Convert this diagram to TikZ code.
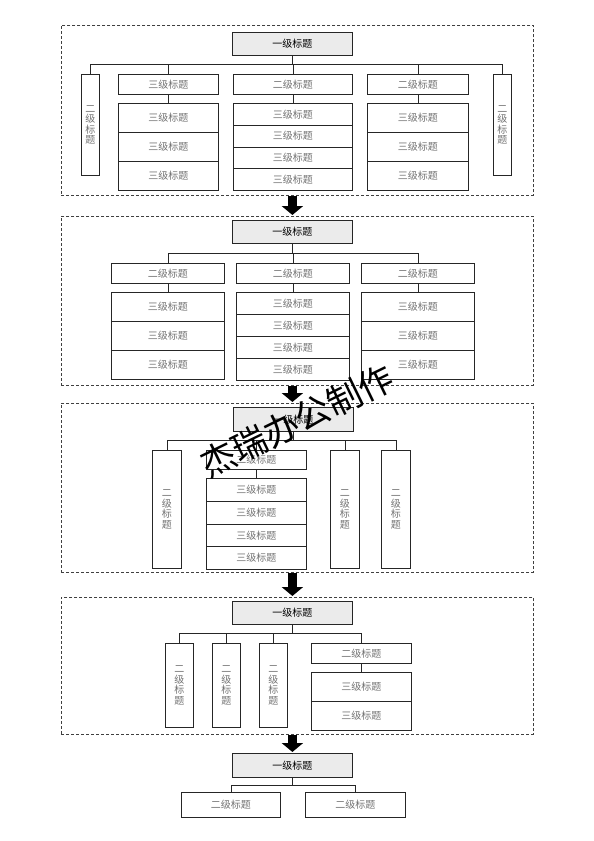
\documentclass[tikz,border=0pt]{standalone}
\usepackage{fontspec}
\setmainfont{Noto Sans CJK SC}
\newfontfamily\cjk{Noto Sans CJK SC}
\usetikzlibrary{arrows.meta}
\begin{document}
\begin{tikzpicture}[x=1pt,y=-1pt,
  box/.style={draw=black!85, line width=0.8pt, anchor=north west, inner sep=0pt,
    font=\cjk\fontsize{10}{10.5}\selectfont, text=black!55, align=center},
  topbox/.style={box, fill=black!8, text=black, minimum width=120pt, minimum height=23pt},
  vbox/.style={box, minimum height=#1},
  frame/.style={draw=black!75, dash pattern=on 3pt off 2pt, line width=0.8pt, anchor=north west,
    inner sep=0pt, minimum width=472pt, minimum height=#1},
  link/.style={draw=black!85, line width=0.8pt},
  bigarrow/.style={draw=black, line width=9pt, shorten >=1pt, -{Triangle[length=9pt,width=21pt]}},
]
\useasboundingbox (0,0) rectangle (594,841);

% ---------------- Section 1 ----------------
\node[frame=170pt] (f1) at (61,25) {};
\node[topbox] (t1) at (232,32) {一级标题};
\coordinate (b1) at (0,64);
\node[box, minimum width=18pt, minimum height=101pt] (s1l) at (81,74) {二\\级\\标\\题};
\node[box, minimum width=18pt, minimum height=101pt] (s1r) at (493,74) {二\\级\\标\\题};
\node[box, minimum width=100pt, minimum height=20pt] (s1a) at (118,74) {三级标题};
\node[box, minimum width=119pt, minimum height=20pt] (s1b) at (233,74) {二级标题};
\node[box, minimum width=101pt, minimum height=20pt] (s1c) at (367,74) {二级标题};
\foreach \i in {0,1,2} {
  \node[box, minimum width=100pt, minimum height=29pt] (s1a\i) at (118,{103+29*\i}) {三级标题};
  \node[box, minimum width=101pt, minimum height=29pt] (s1c\i) at (367,{103+29*\i}) {三级标题};
}
\foreach \i in {0,1,2,3} {
  \node[box, minimum width=119pt, minimum height=21.75pt] (s1b\i) at (233,{103+21.75*\i}) {三级标题};
}
\draw[link] (t1.south) -- (t1.south |- b1);
\draw[link] (s1l.north) -- (s1l.north |- b1) -- (s1r.north |- b1) -- (s1r.north);
\foreach \c in {s1a,s1b,s1c} {
  \draw[link] (\c.north) -- (\c.north |- b1);
  \draw[link] (\c.south) -- (\c0.north);
}

% ---------------- Section 2 ----------------
\node[frame=169pt] (f2) at (61,216) {};
\node[topbox] (t2) at (232,220) {一级标题};
\coordinate (b2) at (0,253);
\node[box, minimum width=113pt, minimum height=20pt] (s2a) at (111,263) {二级标题};
\node[box, minimum width=113pt, minimum height=20pt] (s2b) at (236,263) {二级标题};
\node[box, minimum width=113pt, minimum height=20pt] (s2c) at (361,263) {二级标题};
\foreach \i in {0,1,2} {
  \node[box, minimum width=113pt, minimum height=29pt] (s2a\i) at (111,{292+29*\i}) {三级标题};
  \node[box, minimum width=113pt, minimum height=29pt] (s2c\i) at (361,{292+29*\i}) {三级标题};
}
\foreach \i in {0,1,2,3} {
  \node[box, minimum width=113pt, minimum height=22pt] (s2b\i) at (236,{292+22*\i}) {三级标题};
}
\draw[link] (t2.south) -- (t2.south |- b2);
\draw[link] (s2a.north) -- (s2a.north |- b2) -- (s2c.north |- b2) -- (s2c.north);
\foreach \c in {s2a,s2b,s2c} {
  \draw[link] (\c.north) -- (\c.north |- b2);
  \draw[link] (\c.south) -- (\c0.north);
}

% ---------------- Section 3 ----------------
\node[frame=169pt] (f3) at (61,403) {};
\node[topbox, minimum height=24pt] (t3) at (233,407) {一级标题};
\coordinate (b3) at (0,440);
\node[box, minimum width=29pt, minimum height=118pt] (s3v1) at (152,450) {二\\级\\标\\题};
\node[box, minimum width=100pt, minimum height=19pt] (s3a) at (206,450) {二级标题};
\node[box, minimum width=29pt, minimum height=118pt] (s3v2) at (330,450) {二\\级\\标\\题};
\node[box, minimum width=29pt, minimum height=118pt] (s3v3) at (381,450) {二\\级\\标\\题};
\foreach \i in {0,1,2,3} {
  \node[box, minimum width=100pt, minimum height=22.75pt] (s3a\i) at (206,{478+22.75*\i}) {三级标题};
}
\draw[link] (t3.south) -- (t3.south |- b3);
\draw[link] (s3v1.north) -- (s3v1.north |- b3) -- (s3v3.north |- b3) -- (s3v3.north);
\draw[link] (s3a.north) -- (s3a.north |- b3);
\draw[link] (s3v2.north) -- (s3v2.north |- b3);
\draw[link] (s3a.south) -- (s3a0.north);

% ---------------- Section 4 ----------------
\node[frame=137pt] (f4) at (61,597) {};
\node[topbox] (t4) at (232,601) {一级标题};
\coordinate (b4) at (0,633);
\node[box, minimum width=28pt, minimum height=84pt] (s4v1) at (165,643) {二\\级\\标\\题};
\node[box, minimum width=28pt, minimum height=84pt] (s4v2) at (212,643) {二\\级\\标\\题};
\node[box, minimum width=28pt, minimum height=84pt] (s4v3) at (259,643) {二\\级\\标\\题};
\node[box, minimum width=100pt, minimum height=20pt] (s4a) at (311,643) {二级标题};
\foreach \i in {0,1} {
  \node[box, minimum width=100pt, minimum height=29pt] (s4a\i) at (311,{672+29*\i}) {三级标题};
}
\draw[link] (t4.south) -- (t4.south |- b4);
\draw[link] (s4v1.north) -- (s4v1.north |- b4) -- (s4a.north |- b4) -- (s4a.north);
\draw[link] (s4v2.north) -- (s4v2.north |- b4);
\draw[link] (s4v3.north) -- (s4v3.north |- b4);
\draw[link] (s4a.south) -- (s4a0.north);

% ---------------- Section 5 ----------------
\node[topbox, minimum height=24pt] (t5) at (232,753) {一级标题};
\coordinate (b5) at (0,785);
\node[box, minimum width=99pt, minimum height=25pt] (s5a) at (181,792) {二级标题};
\node[box, minimum width=100pt, minimum height=25pt] (s5b) at (305,792) {二级标题};
\draw[link] (t5.south) -- (t5.south |- b5);
\draw[link] (s5a.north) -- (s5a.north |- b5) -- (s5b.north |- b5) -- (s5b.north);

% ---------------- Arrows ----------------
\draw[bigarrow] (f1.south -| t1.south) -- (f2.north -| t1.south);
\draw[bigarrow] (f2.south -| t1.south) -- (f3.north -| t1.south);
\draw[bigarrow] (f3.south -| t1.south) -- (f4.north -| t1.south);
\draw[bigarrow] (f4.south -| t1.south) -- (t5.north);

% ---------------- Watermark ----------------
\node[rotate=26, font=\cjk\fontsize{35}{35}\selectfont, text=black, inner sep=0pt] (wm) at (297,421) {杰瑞办公制作};
\end{tikzpicture}
\end{document}
